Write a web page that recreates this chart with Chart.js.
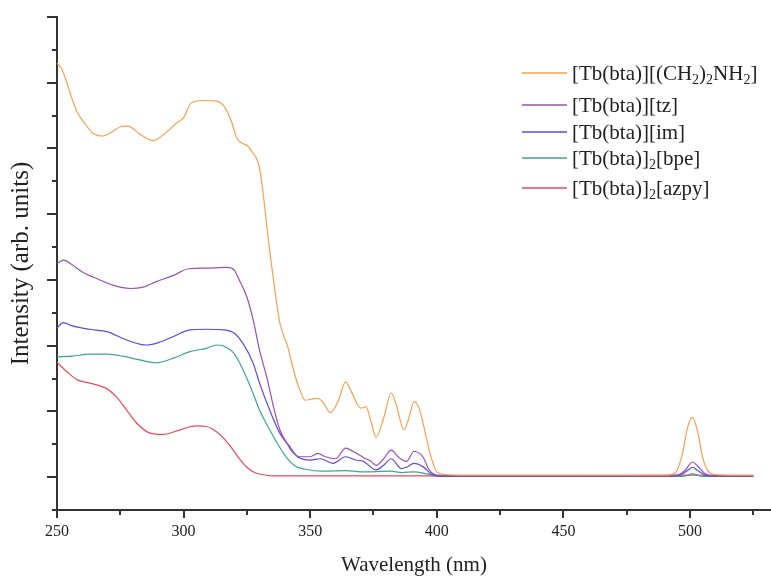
<!DOCTYPE html>
<html>
<head>
<meta charset="utf-8">
<script src="https://cdn.jsdelivr.net/npm/chart.js@4/dist/chart.umd.min.js"></script>
<style>
  html, body { margin: 0; padding: 0; background: #ffffff; }
  canvas { display: block; }
</style>
</head>
<body>
<canvas id="spectra" width="771" height="578"></canvas>
<script>
// Excitation spectra of the Tb(bta) complexes (wavelength in nm, intensity in arb. units)

const amineNm = [250, 252, 256, 258, 261, 264, 268, 272, 275, 278, 283, 288, 293, 297, 300, 303, 307, 313, 316, 319, 321, 323, 325, 327, 330, 334, 338, 341, 344, 346, 348, 351, 353, 355, 358, 361, 364, 366, 370, 372, 374, 376, 379, 382, 384, 387, 389, 391, 393, 395, 397, 400, 403, 410, 430, 460, 490, 494, 497, 499, 501, 503, 505, 507, 510, 515, 525];
const amineI  = [6.30, 6.20, 5.75, 5.55, 5.38, 5.24, 5.19, 5.26, 5.33, 5.34, 5.21, 5.12, 5.24, 5.38, 5.47, 5.69, 5.73, 5.72, 5.64, 5.40, 5.16, 5.08, 5.05, 4.95, 4.70, 3.45, 2.35, 2.00, 1.55, 1.32, 1.17, 1.19, 1.20, 1.14, 0.98, 1.15, 1.45, 1.32, 1.05, 1.07, 0.85, 0.61, 0.90, 1.28, 1.10, 0.72, 0.90, 1.15, 1.05, 0.75, 0.41, 0.08, 0.04, 0.03, 0.03, 0.03, 0.03, 0.06, 0.35, 0.75, 0.91, 0.70, 0.30, 0.10, 0.04, 0.03, 0.03];

const tzNm = [250, 252.5, 256, 260, 267, 272, 279, 284, 289, 296, 302, 309, 317, 320, 322, 325, 327.5, 330, 333, 335.5, 338, 341, 343, 346, 350, 353, 356, 360, 364, 367, 371, 374, 376, 379, 382, 385, 388, 391, 394.5, 397, 400, 410, 450, 490, 495, 498, 501, 503, 506, 510, 525];
const tzI  = [3.25, 3.30, 3.23, 3.12, 3.00, 2.92, 2.87, 2.89, 2.97, 3.07, 3.17, 3.18, 3.19, 3.15, 3.00, 2.74, 2.39, 1.93, 1.50, 1.07, 0.72, 0.50, 0.38, 0.31, 0.31, 0.36, 0.31, 0.28, 0.44, 0.39, 0.30, 0.24, 0.18, 0.28, 0.41, 0.30, 0.24, 0.39, 0.31, 0.11, 0.03, 0.02, 0.02, 0.02, 0.03, 0.10, 0.23, 0.17, 0.05, 0.02, 0.02];

const imNm = [250, 252.5, 256, 263, 270, 276, 283, 285.5, 291, 296, 302.5, 309, 316, 320, 323.5, 327.5, 330, 334, 338, 342, 345, 350, 354, 359, 364, 368, 371, 376, 379, 382, 386, 388, 391, 394.5, 398.5, 402, 410, 450, 490, 496, 499, 501, 503, 506, 510, 525];
const imI  = [2.27, 2.35, 2.30, 2.25, 2.21, 2.11, 2.02, 2.01, 2.06, 2.14, 2.24, 2.25, 2.24, 2.19, 2.03, 1.73, 1.43, 1.02, 0.67, 0.46, 0.31, 0.26, 0.28, 0.21, 0.31, 0.26, 0.24, 0.11, 0.18, 0.28, 0.13, 0.15, 0.21, 0.16, 0.03, 0.01, 0.01, 0.01, 0.01, 0.03, 0.10, 0.15, 0.10, 0.03, 0.01, 0.01];

const bpeNm = [250, 256, 263, 270, 276, 283, 289, 296, 302.5, 309, 313, 316, 320, 323.5, 327.5, 330, 334, 338, 341, 344, 348, 355, 364, 370, 382, 386, 391, 396, 400, 410, 450, 490, 497, 501, 505, 510, 525];
const bpeI  = [1.83, 1.84, 1.87, 1.87, 1.84, 1.78, 1.74, 1.81, 1.91, 1.96, 2.01, 1.99, 1.88, 1.63, 1.27, 1.02, 0.72, 0.45, 0.28, 0.17, 0.12, 0.09, 0.10, 0.08, 0.09, 0.07, 0.08, 0.05, 0.02, 0.01, 0.01, 0.01, 0.01, 0.05, 0.01, 0.01, 0.01];

const azpyNm = [250, 254, 258, 263, 269.5, 273.5, 277.5, 281.5, 286.7, 292, 298.6, 305, 309, 313, 317, 319.6, 322, 325, 328, 331, 335, 345, 400, 450, 500, 525];
const azpyI  = [1.75, 1.60, 1.48, 1.43, 1.35, 1.22, 1.02, 0.82, 0.67, 0.65, 0.72, 0.78, 0.77, 0.69, 0.54, 0.41, 0.28, 0.15, 0.07, 0.04, 0.02, 0.02, 0.02, 0.02, 0.03, 0.02];

// Legend labels; "_2" marks a subscript digit
const seriesLabels = [
  '[Tb(bta)][(CH_2)_2NH_2]',
  '[Tb(bta)][tz]',
  '[Tb(bta)][im]',
  '[Tb(bta)]_2[bpe]',
  '[Tb(bta)]_2[azpy]'
];
const seriesColors = ['#F5A04E', '#9A4FB0', '#5B4CDB', '#3DA58F', '#E84A5A'];

const xTickValues = [250, 300, 350, 400, 450, 500];

const AXIS_COLOR = '#333333';
const TEXT_COLOR = '#222222';
const SERIF = "'Liberation Serif', 'Times New Roman', serif";

function toPoints(xs, ys) {
  return xs.map((x, i) => ({ x: x, y: ys[i] }));
}

const seriesData = [
  toPoints(amineNm, amineI),
  toPoints(tzNm, tzI),
  toPoints(imNm, imI),
  toPoints(bpeNm, bpeI),
  toPoints(azpyNm, azpyI)
];

function plainLabel(s) {
  return s.replace(/_2/g, '\u2082');
}

// Split a label into normal / subscript runs
function labelRuns(s) {
  const runs = [];
  let buf = '';
  for (let i = 0; i < s.length; i++) {
    if (s[i] === '_' && i + 1 < s.length) {
      if (buf) { runs.push({ text: buf, sub: false }); buf = ''; }
      runs.push({ text: s[i + 1], sub: true });
      i++;
    } else {
      buf += s[i];
    }
  }
  if (buf) runs.push({ text: buf, sub: false });
  return runs;
}

// Major / minor tick marks on both axes
const axisTicks = {
  id: 'axisTicks',
  afterDraw(chart) {
    const { ctx, scales } = chart;
    const xs = scales.x, ys = scales.y;
    ctx.save();
    ctx.strokeStyle = AXIS_COLOR;
    ctx.lineWidth = 2;
    const yBase = ys.bottom;
    for (let k = 0; k * 25 + 250 <= 525; k++) {
      const v = 250 + k * 25;
      const px = Math.round(xs.getPixelForValue(v));
      const len = (k % 2 === 0) ? 8 : 5;
      ctx.beginPath();
      ctx.moveTo(px, yBase);
      ctx.lineTo(px, yBase + len);
      ctx.stroke();
    }
    const xBase = xs.left;
    for (let k = 0; k <= 15; k++) {
      const v = -0.5 + k * 0.5;
      const py = Math.round(ys.getPixelForValue(v));
      const len = (k % 2 === 1) ? 10 : 5;
      ctx.beginPath();
      ctx.moveTo(xBase, py);
      ctx.lineTo(xBase - len, py);
      ctx.stroke();
    }
    ctx.restore();
  }
};

// Legend with subscripted formulas
const formulaLegend = {
  id: 'formulaLegend',
  afterDraw(chart) {
    const { ctx } = chart;
    const rowsY = [73, 105, 132, 158, 188];
    const lineX0 = 522, lineX1 = 567, textX = 572;
    const mainSize = 21, subSize = 14;
    ctx.save();
    ctx.textBaseline = 'middle';
    ctx.textAlign = 'left';
    chart.data.datasets.forEach((ds, i) => {
      const y = rowsY[i];
      ctx.strokeStyle = ds.borderColor;
      ctx.lineWidth = 1.3;
      ctx.beginPath();
      ctx.moveTo(lineX0, y);
      ctx.lineTo(lineX1, y);
      ctx.stroke();
      let x = textX;
      ctx.fillStyle = TEXT_COLOR;
      labelRuns(seriesLabels[i]).forEach(run => {
        if (run.sub) {
          ctx.font = subSize + 'px ' + SERIF;
          ctx.fillText(run.text, x, y + 7);
        } else {
          ctx.font = mainSize + 'px ' + SERIF;
          ctx.fillText(run.text, x, y + 1);
        }
        x += ctx.measureText(run.text).width;
      });
    });
    ctx.restore();
  }
};

new Chart(document.getElementById('spectra'), {
  type: 'line',
  data: {
    datasets: seriesData.map((pts, i) => ({
      label: plainLabel(seriesLabels[i]),
      data: pts,
      borderColor: seriesColors[i],
      backgroundColor: seriesColors[i],
      borderWidth: 1.2,
      pointRadius: 0,
      fill: false,
      cubicInterpolationMode: 'monotone'
    }))
  },
  options: {
    responsive: false,
    animation: false,
    layout: { padding: { top: 17, right: 0, bottom: 0, left: 0 } },
    plugins: {
      legend: { display: false },
      tooltip: { enabled: false }
    },
    scales: {
      x: {
        type: 'linear',
        min: 250,
        max: 532,
        afterFit(scale) { scale.height = 68; },
        grid: { display: false, drawTicks: false },
        border: { display: true, color: AXIS_COLOR, width: 2 },
        afterBuildTicks(scale) {
          scale.ticks = xTickValues.map(v => ({ value: v }));
        },
        ticks: {
          autoSkip: false,
          maxRotation: 0,
          padding: 12,
          color: TEXT_COLOR,
          font: { family: SERIF, size: 16 },
          callback: v => String(v)
        },
        title: {
          display: true,
          text: 'Wavelength (nm)',
          color: TEXT_COLOR,
          font: { family: SERIF, size: 21 },
          padding: { top: 0, bottom: 0 }
        }
      },
      y: {
        type: 'linear',
        min: -0.5,
        max: 7,
        afterFit(scale) { scale.width = 57; },
        grid: { display: false, drawTicks: false },
        border: { display: true, color: AXIS_COLOR, width: 2 },
        ticks: { display: false, stepSize: 0.5 },
        title: {
          display: true,
          text: 'Intensity (arb. units)',
          color: TEXT_COLOR,
          font: { family: SERIF, size: 25 },
          padding: { top: 6, bottom: 0 }
        }
      }
    }
  },
  plugins: [axisTicks, formulaLegend]
});
</script>
</body>
</html>
